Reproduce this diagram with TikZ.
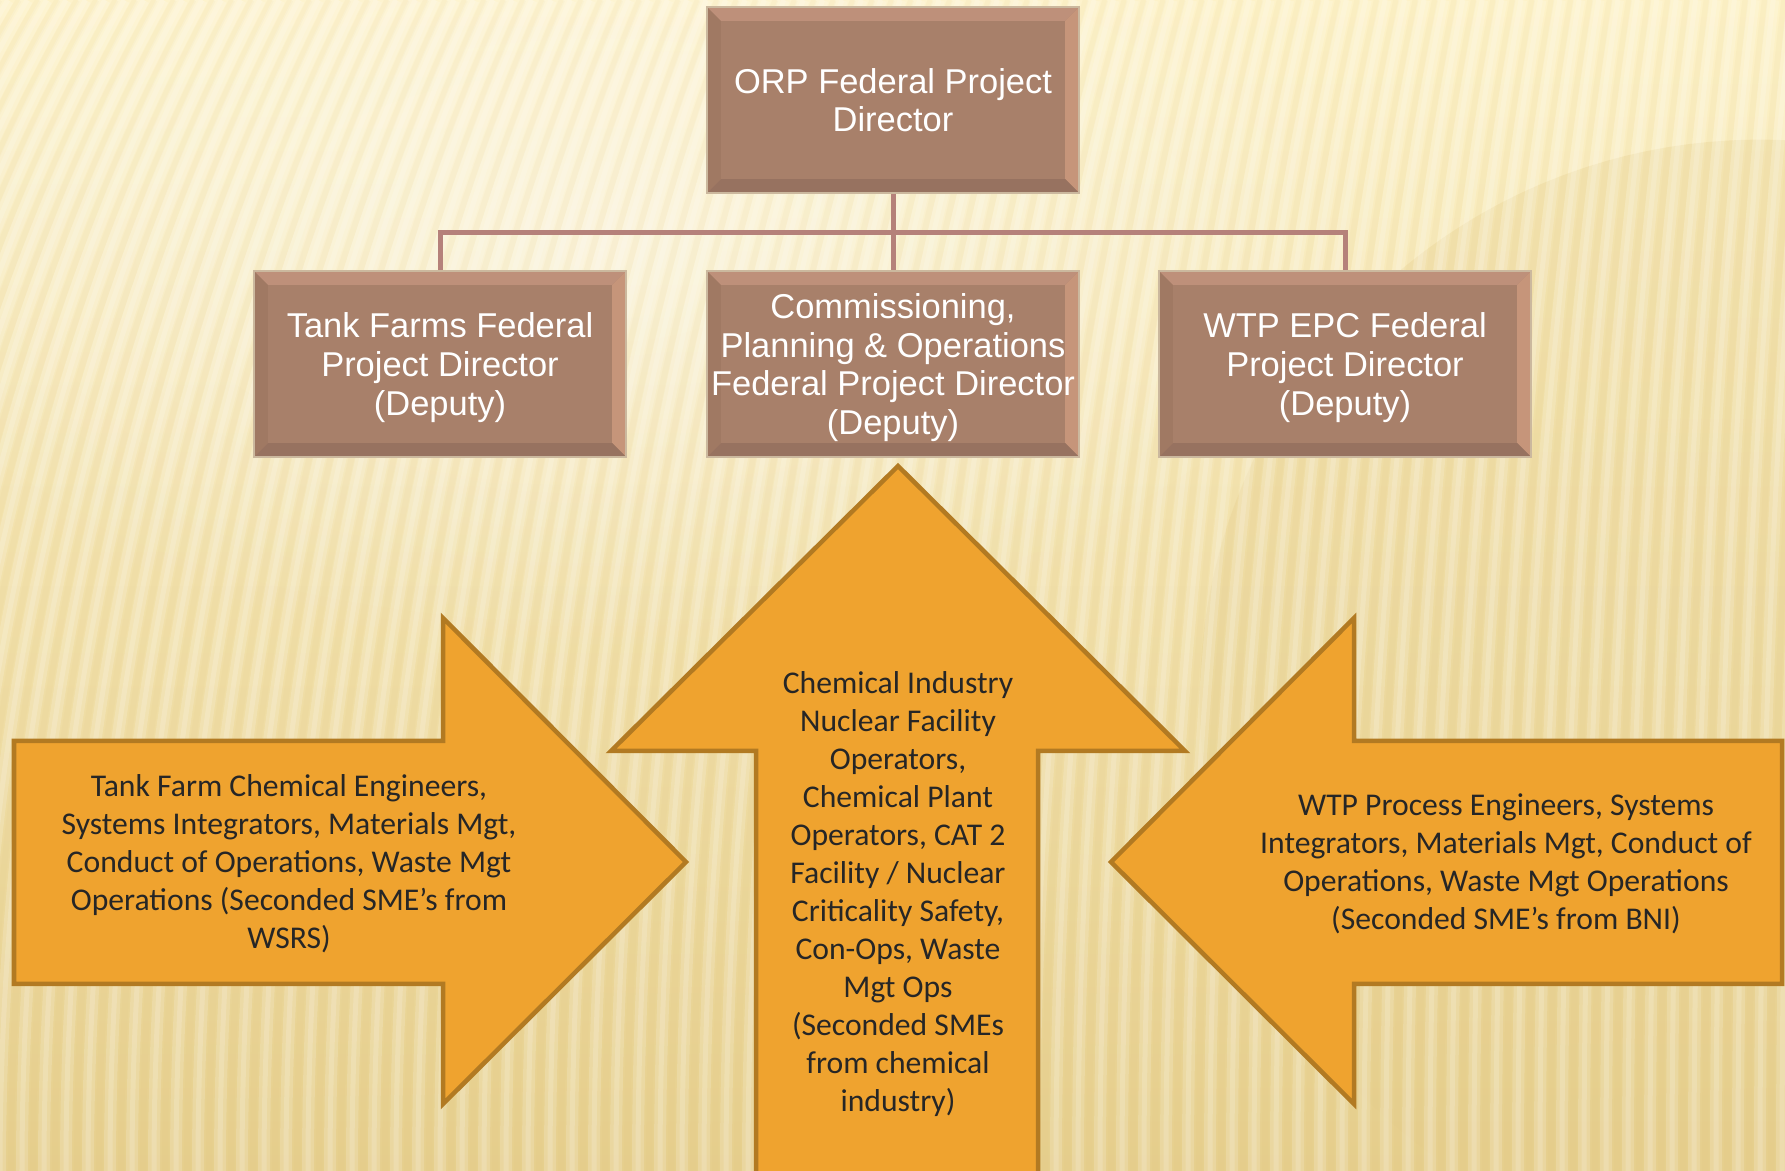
\documentclass[tikz,border=0pt]{standalone}
\usepackage{fontspec}
\setmainfont{Liberation Sans}
\newfontfamily\calibri{Carlito}
\usetikzlibrary{calc,fadings}

\definecolor{paperlite}{HTML}{FDF2C8}
\definecolor{paperdark}{HTML}{E6CF8D}
\definecolor{boxbrown}{HTML}{A8806A}
\definecolor{boxrim}{HTML}{CBB89E}
\definecolor{bevtop}{HTML}{BE907A}
\definecolor{bevright}{HTML}{C6957A}
\definecolor{bevbottom}{HTML}{977260}
\definecolor{bevleft}{HTML}{A07963}
\definecolor{linkrose}{HTML}{B5817A}
\definecolor{armfill}{HTML}{EFA32F}
\definecolor{armrim}{HTML}{B27A22}
\definecolor{armink}{HTML}{262626}

\tikzfading[name=glow, inner color=transparent!0, outer color=transparent!100]

\tikzset{
  fedbox/.style={rectangle, fill=boxbrown, draw=boxrim, line width=0.015cm,
    minimum width=3.72cm, minimum height=1.86cm, inner sep=0pt, text depth=0pt,
    align=center, text=white, font=\fontsize{9.8}{11}\selectfont,
    path picture={
      \path (path picture bounding box.north west) coordinate (bnw)
            (path picture bounding box.north east) coordinate (bne)
            (path picture bounding box.south west) coordinate (bsw)
            (path picture bounding box.south east) coordinate (bse);
      \fill[bevtop] (bnw) -- (bne) -- ($(bne)+(-14,14)$) -- ($(bnw)+(14,14)$) -- cycle;
      \fill[bevright] (bne) -- (bse) -- ($(bse)+(-14,-14)$) -- ($(bne)+(-14,14)$) -- cycle;
      \fill[bevbottom] (bse) -- (bsw) -- ($(bsw)+(14,-14)$) -- ($(bse)+(-14,-14)$) -- cycle;
      \fill[bevleft] (bsw) -- (bnw) -- ($(bnw)+(14,14)$) -- ($(bsw)+(14,-14)$) -- cycle;
    }},
  link/.style={draw=linkrose, line width=0.05cm},
  bigarrow/.style={fill=armfill, draw=armrim, line width=0.045cm, line join=miter},
  armtext/.style={align=center, text=armink, font=\calibri\fontsize{9}{10.8}\selectfont},
  stripe/.style={white, opacity=0.16, line width=0.12cm},
  groove/.style={paperdark!80!brown, opacity=0.08, line width=0.06cm}
}

\begin{document}
\begin{tikzpicture}[x=0.01cm, y=-0.01cm]
\useasboundingbox (0,0) rectangle (1785,1171);
\clip (0,0) rectangle (1785,1171);

% paper background
\shade[top color=paperlite, bottom color=paperdark] (0,0) rectangle (1785,1171);
\fill[white, opacity=0.45, path fading=glow] (600,250) ellipse (8cm and 4cm);
\fill[paperdark, opacity=0.3] (1760,700) circle (5.6cm);
\foreach \i [evaluate=\i as \s using {max(30,260-2.6*\i)}] in {-14,...,82}{
  \draw[stripe] (\i*22,1171) .. controls (\i*22,700) and (\i*22+0.4*\s,300) .. (\i*22+\s,0);
  \draw[stripe, line width=0.05cm] (\i*22,1171) .. controls (\i*22,700) and (\i*22+0.4*\s,300) .. (\i*22+\s,0);
  \draw[groove] (\i*22+11,1171) .. controls (\i*22+11,700) and (\i*22+11+0.4*\s,300) .. (\i*22+11+\s,0);
}

% arrows
\draw[bigarrow] (14,741) -- (443,741) -- (443,618) -- (686,862) -- (443,1104)
  -- (443,984) -- (14,984) -- cycle;
\draw[bigarrow] (1782,741) -- (1354,741) -- (1354,618) -- (1111,862) -- (1354,1104)
  -- (1354,984) -- (1782,984) -- cycle;
\draw[bigarrow] (756,1200) -- (756,751) -- (611,751) -- (898,466) -- (1185,751)
  -- (1038,751) -- (1038,1200) -- cycle;

\node[armtext] (tanktxt) at (289,864) {Tank Farm Chemical Engineers,\\
  Systems Integrators, Materials Mgt,\\Conduct of Operations, Waste Mgt\\
  Operations (Seconded SME’s from\\WSRS)};
\node[armtext] (chemtxt) at (898,894) {Chemical Industry\\Nuclear Facility\\
  Operators,\\Chemical Plant\\Operators, CAT 2\\Facility / Nuclear\\
  Criticality Safety,\\Con-Ops, Waste\\Mgt Ops\\(Seconded SMEs\\
  from chemical\\industry)};
\node[armtext] (wtptxt) at (1506,864) {WTP Process Engineers, Systems\\
  Integrators, Materials Mgt, Conduct of\\Operations, Waste Mgt Operations\\
  (Seconded SME’s from BNI)};

% org boxes
\node[fedbox] (orp) at (893,100) {ORP Federal Project\\Director};
\node[fedbox] (tank) at (440,364) {Tank Farms Federal\\Project Director\\(Deputy)};
\node[fedbox] (cpo) at (893,364) {Commissioning,\\Planning \& Operations\\
  Federal Project Director\\(Deputy)};
\node[fedbox] (wtp) at (1345,364) {WTP EPC Federal\\Project Director\\(Deputy)};

\coordinate (bus) at (893,233);
\draw[link] (orp.south) -- (cpo.north);
\draw[link] (tank.north) -- (tank.north |- bus) -| (wtp.north);
\end{tikzpicture}
\end{document}
